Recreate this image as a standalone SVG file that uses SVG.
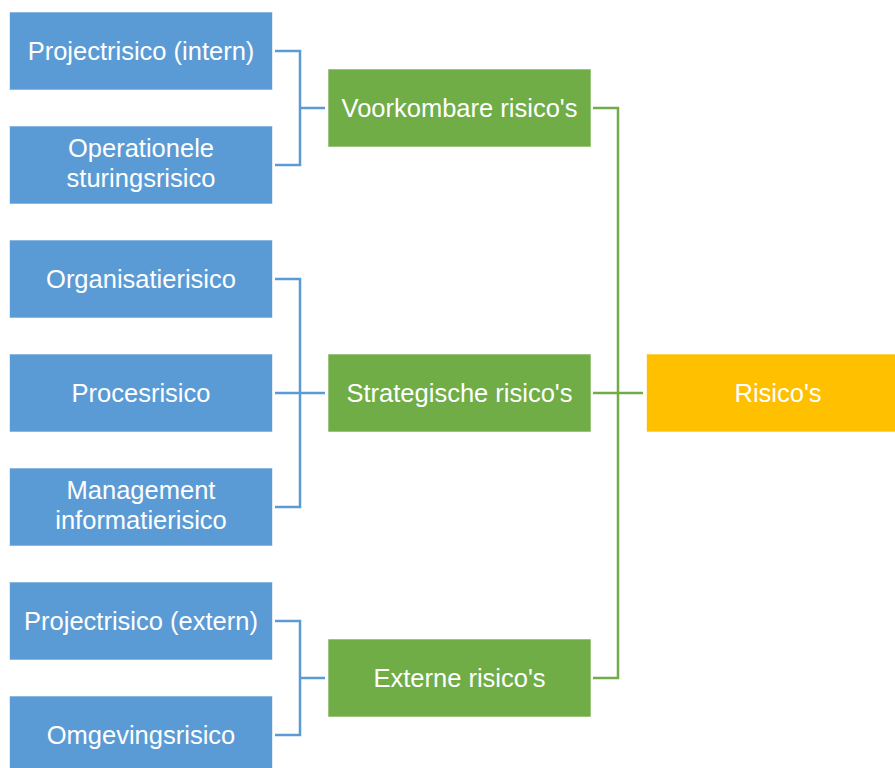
<svg xmlns="http://www.w3.org/2000/svg" width="895" height="768" viewBox="0 0 895 768">
<style>
.box{stroke:#ffffff;stroke-width:1;stroke-opacity:0.6}
.blue{fill:#5B9BD5}
.green{fill:#70AD47}
.yellow{fill:#FFC000}
text{font-family:"Liberation Sans",Arial,sans-serif;font-size:25.5px;fill:#ffffff;text-anchor:middle}
.cb{fill:none;stroke:#5B9BD5;stroke-width:2.5}
.cg{fill:none;stroke:#70AD47;stroke-width:2.5}
</style>
<rect width="895" height="768" fill="#ffffff"/>
<g id="connectors">
<path class="cb" d="M275,51H300V108H325M275,165H300V108"/>
<path class="cb" d="M275,279H300V507H275M275,393H325"/>
<path class="cb" d="M275,621H300V735H275M300,678H325"/>
<path class="cg" d="M593,108H618V678H593M593,393H643"/>
</g>
<g id="n1"><rect class="box blue" x="9.5" y="12" width="263" height="78"/><text x="141" y="60">Projectrisico (intern)</text></g>
<g id="n2"><rect class="box blue" x="9.5" y="126" width="263" height="78"/><text x="141" y="157">Operationele</text><text x="141" y="187">sturingsrisico</text></g>
<g id="n3"><rect class="box blue" x="9.5" y="240" width="263" height="78"/><text x="141" y="288">Organisatierisico</text></g>
<g id="n4"><rect class="box blue" x="9.5" y="354" width="263" height="78"/><text x="141" y="402">Procesrisico</text></g>
<g id="n5"><rect class="box blue" x="9.5" y="468" width="263" height="78"/><text x="141" y="499">Management</text><text x="141" y="529">informatierisico</text></g>
<g id="n6"><rect class="box blue" x="9.5" y="582" width="263" height="78"/><text x="141" y="630">Projectrisico (extern)</text></g>
<g id="n7"><rect class="box blue" x="9.5" y="696" width="263" height="78"/><text x="141" y="744">Omgevingsrisico</text></g>
<g id="g1"><rect class="box green" x="328" y="69" width="263" height="78"/><text x="459.5" y="117">Voorkombare risico's</text></g>
<g id="g2"><rect class="box green" x="328" y="354" width="263" height="78"/><text x="459.5" y="402">Strategische risico's</text></g>
<g id="g3"><rect class="box green" x="328" y="639" width="263" height="78"/><text x="459.5" y="687">Externe risico's</text></g>
<g id="root"><rect class="box yellow" x="646.5" y="354" width="263" height="78"/><text x="778" y="402">Risico's</text></g>
</svg>
